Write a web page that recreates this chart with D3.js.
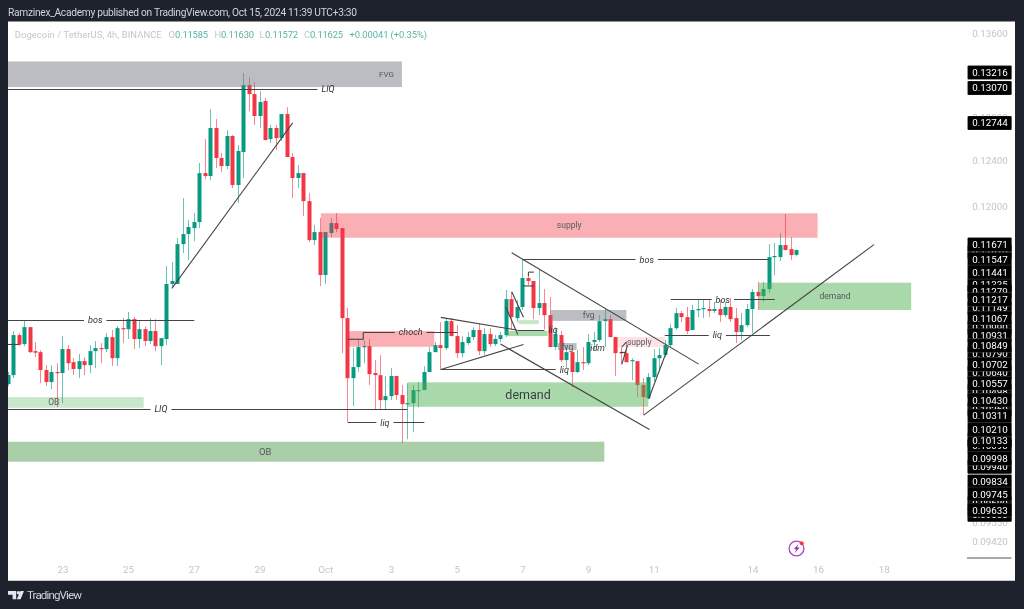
<!DOCTYPE html>
<html><head><meta charset="utf-8"><script src="https://cdnjs.cloudflare.com/ajax/libs/d3/7.9.0/d3.min.js"></script>
<style>html,body{margin:0;padding:0;background:#1e222d;overflow:hidden}svg{display:block;font-family:Roboto,sans-serif;filter:blur(.35px)}</style></head><body>
<svg id="c" width="1024" height="609"></svg>
<script>
const opens=[0.10552,0.10620,0.10932,0.10861,0.10995,0.10806,0.10798,0.10659,0.10567,0.10644,
0.10636,0.10822,0.10720,0.10667,0.10728,0.10697,0.10806,0.10830,0.10822,0.10916,
0.10751,0.10987,0.10979,0.11059,0.10901,0.10979,0.10885,0.10964,0.10845,0.10901,
0.11343,0.11343,0.11675,0.11760,0.11811,0.11863,0.12290,0.12264,0.12697,0.12425,
0.12353,0.12624,0.12185,0.12479,0.13098,0.13013,0.12808,0.12948,0.12596,0.12697,
0.12605,0.12826,0.12434,0.12247,0.12290,0.12044,0.11709,0.11777,0.11417,0.11769,
0.11854,0.11811,0.11067,0.10597,0.10682,0.10838,0.10845,0.10636,0.10620,0.10430,
0.10460,0.10613,0.10468,0.10400,0.10407,0.10498,0.10506,0.10644,0.10798,0.10853,
0.10830,0.11043,0.10924,0.10790,0.10869,0.10916,0.10972,0.10806,0.10940,0.10861,
0.10901,0.10932,0.11220,0.11067,0.11156,0.11392,0.11368,0.11148,0.11188,0.11091,
0.10838,0.10932,0.10736,0.10798,0.10644,0.10720,0.10712,0.10877,0.10893,0.11043,
0.11059,0.10916,0.10798,0.10790,0.10728,0.10728,0.10544,0.10445,0.10605,0.10751,
0.10775,0.10853,0.10987,0.11107,0.11075,0.10972,0.11132,0.11140,0.11140,0.11124,
0.11140,0.11091,0.11156,0.11067,0.10956,0.11011,0.11140,0.11278,0.11245,0.11302,
0.11566,0.11566,0.11667,0.11633,0.11585];
const highs=[0.10644,0.10964,0.10948,0.11051,0.10995,0.10877,0.10814,0.10697,0.10697,0.10712,
0.10924,0.10853,0.10751,0.10783,0.10759,0.10853,0.10885,0.10869,0.10948,0.10972,
0.11003,0.11067,0.11116,0.11075,0.11051,0.11003,0.11067,0.11059,0.10908,0.11491,
0.11524,0.11726,0.12071,0.11880,0.11940,0.12380,0.12596,0.12872,0.12780,0.12470,
0.12679,0.12633,0.12542,0.13212,0.13174,0.13127,0.13041,0.12976,0.12725,0.12725,
0.12826,0.12891,0.12470,0.12362,0.12290,0.12115,0.11837,0.11897,0.11777,0.11897,
0.11940,0.11811,0.11148,0.10830,0.10893,0.10893,0.10901,0.10736,0.10775,0.10613,
0.10674,0.10613,0.10544,0.10559,0.10544,0.10567,0.10690,0.10838,0.10877,0.11035,
0.11067,0.11067,0.11011,0.10924,0.10956,0.10995,0.11027,0.10987,0.10987,0.10932,
0.10956,0.11294,0.11278,0.11212,0.11549,0.11441,0.11368,0.11466,0.11302,0.11237,
0.10995,0.10964,0.10838,0.10830,0.10814,0.10838,0.10940,0.10956,0.11091,0.11148,
0.11091,0.10916,0.10838,0.10877,0.10751,0.10728,0.10597,0.10636,0.10822,0.10830,
0.10893,0.11019,0.11148,0.11124,0.11156,0.11172,0.11220,0.11220,0.11212,0.11196,
0.11212,0.11196,0.11228,0.11148,0.11107,0.11180,0.11302,0.11360,0.11360,0.11675,
0.11684,0.11769,0.11932,0.11735,0.11630];
const lows=[0.10536,0.10597,0.10845,0.10845,0.10790,0.10759,0.10559,0.10536,0.10514,0.10377,
0.10407,0.10659,0.10620,0.10597,0.10620,0.10636,0.10674,0.10712,0.10798,0.10690,
0.10690,0.10869,0.10901,0.10822,0.10830,0.10845,0.10861,0.10806,0.10697,0.10853,
0.11319,0.11343,0.11600,0.11541,0.11700,0.11811,0.12238,0.12229,0.12335,0.12299,
0.12326,0.12159,0.12027,0.12247,0.12854,0.12725,0.12697,0.12587,0.12560,0.12497,
0.12578,0.12434,0.12071,0.12159,0.11914,0.11692,0.11667,0.11327,0.11343,0.11735,
0.11777,0.10790,0.10265,0.10385,0.10644,0.10712,0.10544,0.10362,0.10362,0.10362,
0.10430,0.10430,0.10111,0.10140,0.10192,0.10377,0.10506,0.10644,0.10798,0.10659,
0.10814,0.10924,0.10751,0.10759,0.10853,0.10893,0.10775,0.10775,0.10838,0.10845,
0.10877,0.10916,0.10972,0.11035,0.11132,0.11335,0.11059,0.11091,0.10979,0.10838,
0.10814,0.10720,0.10674,0.10529,0.10636,0.10659,0.10697,0.10814,0.10877,0.10838,
0.10916,0.10613,0.10705,0.10720,0.10582,0.10453,0.10317,0.10438,0.10567,0.10659,
0.10759,0.10838,0.10972,0.11035,0.10940,0.10972,0.11075,0.11067,0.11075,0.11107,
0.11035,0.11075,0.11035,0.10869,0.10893,0.10995,0.10948,0.11132,0.11196,0.11270,
0.11417,0.11533,0.11625,0.11541,0.11572];
const closes=[0.10621,0.10932,0.10857,0.10995,0.10798,0.10794,0.10659,0.10567,0.10644,0.10636,
0.10822,0.10712,0.10667,0.10728,0.10697,0.10806,0.10830,0.10822,0.10916,0.10751,
0.10987,0.10979,0.11059,0.10901,0.10979,0.10885,0.10964,0.10845,0.10908,0.11343,
0.11368,0.11675,0.11760,0.11820,0.11863,0.12290,0.12264,0.12697,0.12425,0.12353,
0.12624,0.12185,0.12488,0.13098,0.13013,0.12808,0.12938,0.12587,0.12697,0.12605,
0.12826,0.12434,0.12247,0.12290,0.12044,0.11709,0.11777,0.11417,0.11777,0.11854,
0.11803,0.11067,0.10597,0.10682,0.10838,0.10845,0.10628,0.10620,0.10430,0.10460,
0.10613,0.10468,0.10400,0.10407,0.10506,0.10506,0.10644,0.10798,0.10853,0.10830,
0.11043,0.10924,0.10790,0.10877,0.10916,0.10972,0.10806,0.10940,0.10861,0.10901,
0.10932,0.11220,0.11075,0.11156,0.11392,0.11368,0.11148,0.11188,0.11091,0.10838,
0.10940,0.10736,0.10798,0.10644,0.10720,0.10712,0.10877,0.10893,0.11043,0.11059,
0.10916,0.10790,0.10790,0.10720,0.10736,0.10544,0.10453,0.10605,0.10751,0.10775,
0.10853,0.10987,0.11107,0.11075,0.10964,0.11132,0.11140,0.11148,0.11124,0.11140,
0.11091,0.11156,0.11059,0.10956,0.11011,0.11140,0.11278,0.11245,0.11302,0.11566,
0.11575,0.11667,0.11625,0.11583,0.11625];

const dateTicks=[[10,"23"],[22,"25"],[34,"27"],[46,"29"],[58,"Oct"],[70,"3"],[82,"5"],[94,"7"],[106,"9"],[118,"11"],[136,"14"],[148,"16"],[160,"18"]];
const priceTicks=[0.136,0.128,0.124,0.12,0.0955,0.0942];
const coveredTags=[0.1161,0.11335,0.11279,0.11149,0.1099,0.1079,0.1064,0.10498,0.1036,0.1009,0.10133,0.0994,0.0968,0.096];
const shownTags=[0.13216,0.1307,0.12744,0.11671,0.11547,0.11441,0.11217,0.11067,0.10931,0.10849,0.10702,0.10557,0.1043,0.10311,0.1021,0.09998,0.09834,0.09745,0.09633];

// zones: from index, to index, upper price, lower price, kind, label
const zones=[
 [-2,72,0.13323,0.13079,"gray","FVG","end",8],
 [57.2,147.9,0.11938,0.11729,"pink","supply","middle",8.5],
 [62.15,77.9,0.10964,0.1084,"pink","","middle",8],
 [73.06,117,0.10565,0.1038,"green","demand","middle",12.5],
 [-14.9,108.96,0.10121,0.09976,"ob","OB","middle",9.5],
 [-8,24.85,0.10453,0.10372,"pale","OB","middle",8.5],
 [137.2,165,0.11354,0.11132,"green","demand","middle",8.6],
 [99.2,112.98,0.11132,0.11045,"gray","fvg","middle",8.5],
 [100.5,103.9,0.10869,0.10814,"gray","fvg","middle",8.5],
 [110.7,120,0.10917,0.10838,"rose","supply","middle",8.5],
 [93.3,97,0.11051,0.11019,"pale","","middle",8],
 [91.1,98.6,0.10964,0.10924,"green","","middle",8]
];
const zoneFill={gray:"rgba(120,123,134,.5)",pink:"rgba(242,54,69,.4)",green:"rgba(76,175,80,.48)",ob:"rgba(85,159,81,.5)",pale:"rgba(76,175,80,.3)",rose:"rgba(242,54,69,.14)"};

// levels: from index, to index, price, label, label index
const levels=[
 [-2,60.1,0.13065,"LIQ",58.5],
 [-2,34.09,0.11051,"bos",16],
 [-2,73,0.10362,"LIQ",28],
 [62.1,76.1,0.10263,"liq",68.9],
 [64.95,82.1,0.10954,"choch",73.6],
 [79.1,101.65,0.10664,"liq",101.65],
 [93.07,99.6,0.10972,"liq",99.6],
 [94.1,139,0.11547,"bos",116.7],
 [121.1,140.1,0.11217,"bos",130.6],
 [120,139.2,0.10931,"liq",129.6]
];
// trend segments: index, price, index, price
const segments=[
 [30,0.11308,52.05,0.12744],
 [-2,0.10858,2.07,0.10858],
 [64.95,0.10954,64.95,0.10899],
 [62.1,0.10899,64.95,0.10899],
 [79.1,0.11073,93,0.10972],
 [79.1,0.10664,94.2,0.10858],
 [90,0.10861,117.2,0.1021],
 [92.05,0.11603,126.2,0.10705],
 [92.05,0.1128,94.2,0.11073],
 [90.95,0.11158,93.15,0.10937],
 [94.05,0.11327,96.1,0.11327],
 [95.1,0.11441,96.1,0.11441],
 [95.1,0.11441,95.1,0.11409],
 [112.15,0.10703,113.2,0.10853],
 [112.15,0.1084,113.05,0.10879],
 [111.8,0.10796,112.9,0.10796],
 [117.05,0.10438,120.65,0.1084],
 [116.15,0.10317,158.2,0.11671]
];
const idmNote=[107.75,0.10832,"idm"];

const svg=d3.select("#c");
const x=d3.scaleLinear().domain([0,144]).range([7.64,796.2]);
const y=d3.scaleLog().domain([0.136,0.0942]).range([33,541]);
const UP="#089981",DOWN="#f23645";
const candles=opens.map((o,i)=>({i,o,h:highs[i],l:lows[i],c:closes[i]}));

svg.append("rect").attr("width",1024).attr("height",609).attr("fill","#1e222d");
svg.append("rect").attr("x",8).attr("y",21.5).attr("width",1007).attr("height",559.5).attr("fill","#fff");
svg.append("rect").attr("x",8).attr("y",580).attr("width",1007).attr("height",1).attr("fill","#c8cad0");
svg.append("defs").append("clipPath").attr("id","p").append("rect").attr("x",8).attr("y",22).attr("width",958).attr("height",558);
const plot=svg.append("g").attr("clip-path","url(#p)");

// candles
const cg=plot.append("g");
cg.selectAll("line.w").data(candles).join("line").attr("class","w")
 .attr("x1",d=>Math.round(x(d.i))+.5).attr("x2",d=>Math.round(x(d.i))+.5)
 .attr("y1",d=>y(d.h)).attr("y2",d=>y(d.l))
 .attr("stroke",d=>d.c>=d.o?UP:DOWN).attr("stroke-opacity",.6).attr("stroke-width",1);
cg.selectAll("rect.b").data(candles).join("rect").attr("class","b")
 .attr("x",d=>Math.round(x(d.i))-1.5).attr("width",4)
 .attr("y",d=>Math.min(y(d.o),y(d.c)))
 .attr("height",d=>Math.max(1.2,Math.abs(y(d.o)-y(d.c))))
 .attr("fill",d=>d.c>=d.o?UP:DOWN);

// zones
plot.append("g").selectAll("rect").data(zones).join("rect")
 .attr("x",d=>x(d[0])).attr("width",d=>x(d[1])-x(d[0]))
 .attr("y",d=>y(d[2])).attr("height",d=>y(d[3])-y(d[2]))
 .attr("fill",d=>zoneFill[d[4]]);
plot.append("g").selectAll("text").data(zones.filter(d=>d[5])).join("text")
 .attr("x",d=>d[6]==="end"?x(d[1])-8:(x(d[0])+x(d[1]))/2)
 .attr("y",d=>(y(d[2])+y(d[3]))/2).attr("dy",".35em")
 .attr("text-anchor",d=>d[6]).attr("font-size",d=>d[7])
 .attr("fill",d=>d[7]>12?"#3a3d45":"#55585f").text(d=>d[5]);

// segments
const lineCol="#444";
plot.append("g").selectAll("line").data(segments).join("line")
 .attr("x1",d=>x(d[0])).attr("y1",d=>y(d[1])).attr("x2",d=>x(d[2])).attr("y2",d=>y(d[3]))
 .attr("stroke",lineCol).attr("stroke-width",1.1);

// levels with a gap round the label
const lg=plot.append("g");
levels.forEach(d=>{
 const t=lg.append("text").attr("x",x(d[4])).attr("y",y(d[2])).attr("dy",".35em")
  .attr("text-anchor","middle").attr("font-style","italic").attr("font-size",9).attr("fill","#2f3136").text(d[3]);
 const half=t.node().getComputedTextLength()/2+4;
 const yy=Math.round(y(d[2]))+.5;
 lg.append("line").attr("x1",x(d[0])).attr("x2",x(d[4])-half).attr("y1",yy).attr("y2",yy).attr("stroke",lineCol);
 if(x(d[1])>x(d[4])+half) lg.append("line").attr("x1",x(d[4])+half).attr("x2",x(d[1])).attr("y1",yy).attr("y2",yy).attr("stroke",lineCol);
});
lg.append("text").attr("x",x(idmNote[0])).attr("y",y(idmNote[1])).attr("dy",".35em").attr("text-anchor","middle")
 .attr("font-style","italic").attr("font-size",9).attr("fill","#2f3136").text(idmNote[2]);

// axes
const fmt=d3.format(".5f");
const yAxis=svg.append("g").attr("transform","translate(990,0)")
 .call(d3.axisRight(y).tickValues(priceTicks).tickFormat(fmt).tickSize(0).tickPadding(0));
yAxis.select(".domain").remove();
yAxis.selectAll("text").attr("text-anchor","middle").attr("font-size",9.8).attr("font-family","Roboto,sans-serif").attr("fill","#c3c5cc");
const xAxis=svg.append("g").attr("transform","translate(0,566)")
 .call(d3.axisBottom(x).tickValues(dateTicks.map(d=>d[0])).tickFormat(v=>dateTicks.find(d=>d[0]===v)[1]).tickSize(0).tickPadding(0));
xAxis.select(".domain").remove();
xAxis.selectAll("text").attr("font-size",9.8).attr("font-family","Roboto,sans-serif").attr("fill","#c3c5cc");

// price tags
function tags(list,stroke){
 const g=svg.append("g").selectAll("g").data(list).join("g").attr("transform",d=>`translate(0,${y(d)})`);
 g.append("rect").attr("x",967.5).attr("y",-7).attr("width",44.2).attr("height",14).attr("rx",1).attr("fill","#000").attr("stroke",stroke).attr("stroke-width",.5);
 g.append("text").attr("x",990).attr("dy",".35em").attr("text-anchor","middle").attr("font-size",9.8).attr("fill","#fff").text(fmt);
}
tags(coveredTags,"none");
tags(shownTags,"rgba(255,255,255,.3)");
svg.append("rect").attr("x",967).attr("y",557.5).attr("width",44.5).attr("height",1).attr("fill","#555");

// header
svg.append("text").attr("x",8).attr("y",15.5).attr("font-size",10.2).attr("fill","#d1d4dc").attr("textLength",349).text("Ramzinex_Academy published on TradingView.com, Oct 15, 2024 11:39 UTC+3:30");
const legend=[[14.7,"Dogecoin / TetherUS, 4h, BINANCE","#c3c5cc",147],[168.5,"O","#c3c5cc",0],[175,"0.11585","#58b3a0",33],[214.5,"H","#c3c5cc",0],[221,"0.11630","#58b3a0",33],[259.5,"L","#c3c5cc",0],[265,"0.11572","#58b3a0",33],[304,"C","#c3c5cc",0],[310,"0.11625","#58b3a0",33],[349.5,"+0.00041 (+0.35%)","#58b3a0",77.5]];
legend.forEach(d=>{const t=svg.append("text").attr("x",d[0]).attr("y",37.5).attr("font-size",9.4).attr("fill",d[2]).text(d[1]);if(d[3])t.attr("textLength",d[3]);});

// footer mark
svg.append("path").attr("d","M8 591h8.2v8.2h-3.6v-4.4H8zM20.4 591h3.6l-3.4 8.2h-3.8z").attr("fill","#e6e8ee");
svg.append("circle").attr("cx",18.4).attr("cy",592.8).attr("r",1.7).attr("fill","#e6e8ee");
svg.append("text").attr("x",27).attr("y",599).attr("font-size",11.6).attr("fill","#d1d4dc").attr("textLength",55).text("TradingView");

// bolt badge
svg.append("circle").attr("cx",796.5).attr("cy",548.5).attr("r",7.4).attr("fill","#fff").attr("stroke","#ab47bc").attr("stroke-width",1.3);
svg.append("path").attr("d","M798.5 544l-4.7 5.3h2.6l-1.6 3.7 4.9-5.4h-2.7z").attr("fill","#9c27b0");
svg.append("circle").attr("cx",801.7).attr("cy",543.2).attr("r",2).attr("fill","#f23645");
</script></body></html>
